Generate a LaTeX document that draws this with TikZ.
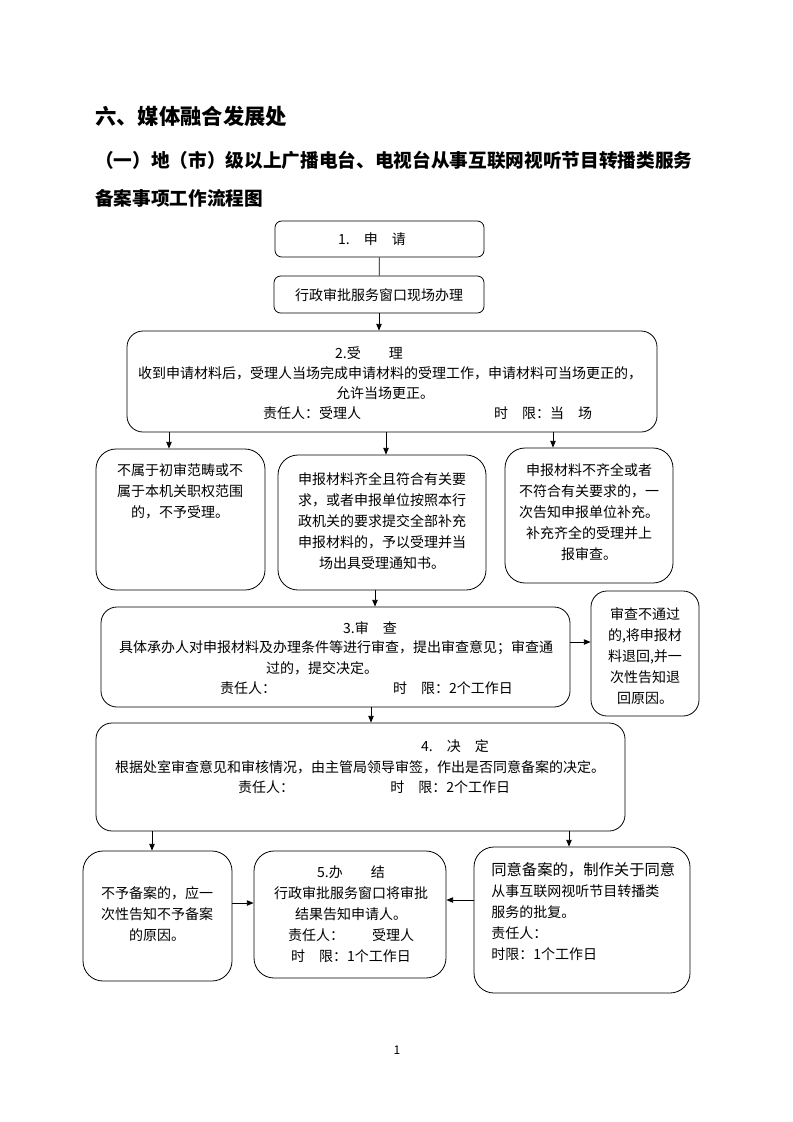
\documentclass[tikz,border=0pt]{standalone}
\usepackage{fontspec}
\setmainfont{Noto Sans CJK SC}
\usetikzlibrary{arrows.meta,fit}
\begin{document}
\begin{tikzpicture}[x=0.75pt,y=-0.75pt,
  box/.style={draw,line width=0.6pt,rounded corners=#1,inner sep=0pt},
  box/.default=12pt,
  txt/.style={inner sep=0pt,font=\fontsize{10.5}{15.75}\selectfont,align=center},
  head/.style={inner sep=0pt,anchor=west,font=\fontsize{#1}{#1}\selectfont\bfseries},
  arr/.style={line width=0.6pt,-{Triangle[length=5pt,width=4pt]}},
  ln/.style={line width=0.6pt}]
\useasboundingbox (0,0) rectangle (793,1122);
% headings
\node[head=16] (h1) at (95,116) {六、媒体融合发展处};
\node[head=14] (h2) at (95,160) {（一）地（市）级以上广播电台、电视台从事互联网视听节目转播类服务};
\node[head=14] (h3) at (95,198) {备案事项工作流程图};
% boxes
\node[box=5pt, fit={(275,221)(484,257)}] (apply) {};
\node[box=5pt, fit={(274,276)(484,313)}] (window) {};
\node[box=12pt, fit={(127,331)(657,432)}] (accept) {};
\node[box=15pt, fit={(96,449)(265,590)}] (rej) {};
\node[box=15pt, fit={(278,455)(486,590)}] (ok) {};
\node[box=15pt, fit={(505,448)(673,583)}] (sup) {};
\node[box=12pt, fit={(101,607)(570,707)}] (check) {};
\node[box=12pt, fit={(591,591)(699,716)}] (fail) {};
\node[box=12pt, fit={(96,723)(625,831)}] (decide) {};
\node[box=15pt, fit={(83,851)(232,981)}] (no) {};
\node[box=15pt, fit={(254,851)(446,978)}] (done) {};
\node[box=15pt, fit={(474,847)(690,993)}] (yes) {};
% texts
\node[txt] (t1) at (372,239) {1.　申　请};
\node[txt] (t1a) at (379,295) {行政审批服务窗口现场办理};
\node[txt] (t2a) at (369,353) {2.受　　理};
\node[txt] (t2b) at (390,373) {收到申请材料后，受理人当场完成申请材料的受理工作，申请材料可当场更正的，};
\node[txt] (t2c) at (385,393) {允许当场更正。};
\node[txt] (t2d) at (312,413) {责任人：受理人};
\node[txt] (t2e) at (543,413) {时　限：当　场};
\node[txt] (trej) at (180,491) {不属于初审范畴或不\\属于本机关职权范围\\的，不予受理。};
\node[txt] (tok) at (382,521) {申报材料齐全且符合有关要\\求，或者申报单位按照本行\\政机关的要求提交全部补充\\申报材料的，予以受理并当\\场出具受理通知书。};
\node[txt] (tsup) at (589,512) {申报材料不齐全或者\\不符合有关要求的，一\\次告知申报单位补充。\\补充齐全的受理并上\\报审查。};
\node[txt] (t3a) at (370,628) {3.审　查};
\node[txt] (t3b) at (336,648) {具体承办人对申报材料及办理条件等进行审查，提出审查意见；审查通};
\node[txt] (t3c) at (322,668) {过的，提交决定。};
\node[txt] (t3d) at (248,688) {责任人：};
\node[txt] (t3e) at (453,688) {时　限：2个工作日};
\node[txt] (tfail) at (645,656) {审查不通过\\的,将申报材\\料退回,并一\\次性告知退\\回原因。};
\node[txt] (t4a) at (455,746) {4.　决　定};
\node[txt] (t4b) at (360,767) {根据处室审查意见和审核情况，由主管局领导审签，作出是否同意备案的决定。};
\node[txt] (t4c) at (266,787) {责任人：};
\node[txt,anchor=west] (t4d) at (390,787) {时　限：2个工作日};
\node[txt] (tno) at (157,914) {不予备案的，应一\\次性告知不予备案\\的原因。};
\node[txt] (tdone) at (351,914) {5.办　　结\\行政审批服务窗口将审批\\结果告知申请人。\\责任人：　　受理人\\时　限：1个工作日};
\node[txt,align=left,anchor=west] (tyes) at (491,912) {{\fontsize{11.5}{15.75}\selectfont 同意备案的，制作关于同意}\\从事互联网视听节目转播类\\服务的批复。\\责任人：\\时限：1个工作日};
\node[inner sep=0pt,font=\fontsize{9}{9}\selectfont] (pg) at (397,1050) {1};
% connectors
\draw[ln] (apply) -- (window);
\draw[arr] (window.south) -- (window.south |- accept.north);
\draw[arr] (169,0 |- accept.south) -- (169,0 |- rej.north);
\draw[arr] (386,0 |- accept.south) -- (386,0 |- ok.north);
\draw[arr] (553,0 |- accept.south) -- (553,0 |- sup.north);
\draw[arr] (375,0 |- ok.south) -- (375,0 |- check.north);
\draw[arr] (check.east |- 0,642) -- (fail.west |- 0,642);
\draw[arr] (371,0 |- check.south) -- (371,0 |- decide.north);
\draw[arr] (152,0 |- decide.south) -- (152,0 |- no.north);
\draw[arr] (569,0 |- decide.south) -- (569,0 |- yes.north);
\draw[arr] (no.east |- 0,903) -- (done.west |- 0,903);
\draw[arr] (yes.west |- 0,900) -- (done.east |- 0,900);
\end{tikzpicture}
\end{document}
